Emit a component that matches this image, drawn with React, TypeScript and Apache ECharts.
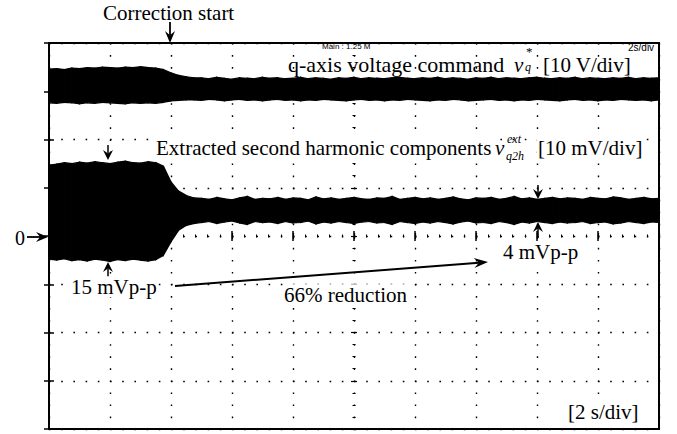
import React, { useEffect, useRef } from 'react';
import * as echarts from 'echarts';

// Sample spacing of the envelope read-outs (seconds)
const timeStep = 0.25;
// Time axis ticks: 0..20 s, 2 s/div
const timeMin = 0;
const timeMax = 20;
const timeDiv = 2;
// Vertical axis in divisions
const divMin = -4;
const divMax = 4;

// q-axis voltage command envelope (divisions)
const ch1Top = [
  3.46, 3.47, 3.45, 3.48, 3.47, 3.49, 3.48, 3.50, 3.49, 3.48, 3.50, 3.49, 3.51, 3.49, 3.48,
  3.45, 3.38, 3.33, 3.30, 3.28,
  3.28, 3.26, 3.29, 3.27, 3.25, 3.28, 3.27, 3.26, 3.29, 3.27,
  3.28, 3.26, 3.27, 3.29, 3.26, 3.28, 3.27, 3.25, 3.28, 3.27,
  3.29, 3.26, 3.28, 3.27, 3.26, 3.28, 3.29, 3.27, 3.26, 3.28,
  3.27, 3.29, 3.26, 3.28, 3.27, 3.25, 3.28, 3.27, 3.29, 3.26,
  3.28, 3.27, 3.26, 3.28, 3.29, 3.27, 3.26, 3.28, 3.27, 3.29,
  3.26, 3.28, 3.27, 3.26, 3.28, 3.27, 3.29, 3.26, 3.28, 3.27,
  3.28,
];
const ch1Bottom = [
  2.76, 2.75, 2.77, 2.76, 2.74, 2.76, 2.75, 2.77, 2.76, 2.75, 2.74, 2.76, 2.75, 2.76, 2.75,
  2.77, 2.80, 2.81, 2.82, 2.82,
  2.81, 2.83, 2.82, 2.80, 2.82, 2.83, 2.81, 2.82, 2.80, 2.82,
  2.83, 2.81, 2.82, 2.80, 2.82, 2.81, 2.83, 2.82, 2.81, 2.80,
  2.82, 2.83, 2.81, 2.82, 2.80, 2.82, 2.81, 2.83, 2.82, 2.81,
  2.80, 2.82, 2.81, 2.83, 2.82, 2.80, 2.81, 2.82, 2.83, 2.81,
  2.82, 2.80, 2.82, 2.81, 2.83, 2.82, 2.81, 2.80, 2.82, 2.83,
  2.81, 2.82, 2.80, 2.82, 2.81, 2.83, 2.82, 2.81, 2.82, 2.80,
  2.82,
];
// Extracted second harmonic envelope (divisions)
const ch2Top = [
  1.47, 1.49, 1.52, 1.50, 1.53, 1.51, 1.54, 1.52, 1.50, 1.53, 1.55, 1.52, 1.51, 1.54, 1.52,
  1.45, 1.12, 0.93, 0.84, 0.79,
  0.78, 0.76, 0.80, 0.77, 0.75, 0.79, 0.82, 0.76, 0.78, 0.77,
  0.80, 0.76, 0.79, 0.78, 0.75, 0.81, 0.77, 0.79, 0.76, 0.78,
  0.80, 0.77, 0.76, 0.79, 0.78, 0.82, 0.76, 0.78, 0.80, 0.77,
  0.79, 0.76, 0.78, 0.81, 0.77, 0.75, 0.79, 0.78, 0.80, 0.76,
  0.78, 0.82, 0.77, 0.79, 0.76, 0.78, 0.80, 0.77, 0.79, 0.78,
  0.76, 0.80, 0.78, 0.77, 0.81, 0.79, 0.76, 0.78, 0.80, 0.77,
  0.78,
];
const ch2Bottom = [
  -0.48, -0.50, -0.47, -0.51, -0.49, -0.52, -0.48, -0.50, -0.53, -0.49, -0.51, -0.48, -0.50, -0.52, -0.49,
  -0.40, -0.12, 0.12, 0.22, 0.26,
  0.28, 0.30, 0.26, 0.29, 0.31, 0.27, 0.24, 0.30, 0.28, 0.29,
  0.26, 0.30, 0.27, 0.28, 0.31, 0.25, 0.29, 0.27, 0.30, 0.28,
  0.26, 0.29, 0.30, 0.27, 0.28, 0.24, 0.30, 0.28, 0.26, 0.29,
  0.27, 0.30, 0.28, 0.25, 0.29, 0.31, 0.27, 0.28, 0.26, 0.30,
  0.28, 0.24, 0.29, 0.27, 0.30, 0.28, 0.26, 0.29, 0.27, 0.28,
  0.30, 0.26, 0.28, 0.29, 0.25, 0.27, 0.30, 0.28, 0.26, 0.29,
  0.28,
];

const SERIF = 'Liberation Serif';
const SANS = 'Liberation Sans';

function txt(x: number, baseline: number, text: string, size = 21, opts: any = {}) {
  return {
    type: 'text',
    z: 100,
    style: {
      x,
      y: baseline - 0.34 * size,
      text,
      fontFamily: opts.family || SERIF,
      fontSize: size,
      fontStyle: opts.italic ? 'italic' : 'normal',
      fill: '#000',
      textAlign: opts.align || 'left',
      textVerticalAlign: 'middle',
      backgroundColor: opts.bg,
      padding: opts.bg ? [0, 1] : 0,
    },
  };
}

function arrow(x1: number, y1: number, x2: number, y2: number, len = 11, half = 5, width = 1.6) {
  const dx = x2 - x1;
  const dy = y2 - y1;
  const d = Math.sqrt(dx * dx + dy * dy);
  const ux = dx / d;
  const uy = dy / d;
  const px = -uy;
  const py = ux;
  const bx = x2 - ux * len;
  const by = y2 - uy * len;
  const nx = x2 - ux * len * 0.65;
  const ny = y2 - uy * len * 0.65;
  return [
    {
      type: 'line',
      z: 100,
      shape: { x1, y1, x2: nx, y2: ny },
      style: { stroke: '#000', lineWidth: width },
    },
    {
      type: 'polygon',
      z: 100,
      shape: {
        points: [
          [x2, y2],
          [bx + px * half, by + py * half],
          [nx, ny],
          [bx - px * half, by - py * half],
        ],
      },
      style: { fill: '#000' },
    },
  ];
}

export default function App() {
  const ref = useRef<HTMLDivElement>(null);
  useEffect(() => {
    const chart = echarts.init(ref.current!, null, { renderer: 'svg' });
    const tickStyle = { show: true, inside: true, length: 5, lineStyle: { color: '#000', width: 1.5 } };
    const baseX = {
      type: 'value',
      min: timeMin,
      max: timeMax,
      interval: timeDiv,
      axisLabel: { show: false },
      axisLine: { show: false },
      axisTick: tickStyle,
    };
    const baseY = {
      type: 'value',
      min: divMin,
      max: divMax,
      interval: 1,
      axisLabel: { show: false },
      axisLine: { show: false },
      axisTick: tickStyle,
    };
    // centre-line graticule axes (tick marks across the centre lines)
    const centreX = (inside: boolean) => ({
      ...baseX,
      position: 'bottom',
      offset: -193,
      axisTick: { show: true, inside, length: 3, lineStyle: { color: '#000', width: 1.2 } },
      minorTick: { show: true, splitNumber: 5, length: 1.5, lineStyle: { color: '#000', width: 1 } },
      splitLine: { show: false },
    });
    const centreY = (inside: boolean) => ({
      ...baseY,
      position: 'left',
      offset: -305,
      axisTick: { show: true, inside, length: 3, lineStyle: { color: '#000', width: 1.2 } },
      minorTick: { show: true, splitNumber: 4, length: 1.5, lineStyle: { color: '#000', width: 1 } },
      splitLine: { show: false },
    });
    const band = (top: number[], bot: number[]) => {
      const data = top.map((v, i) => [i * timeStep, v, bot[i]]);
      return {
        type: 'custom',
        data,
        silent: true,
        z: 5,
        clip: true,
        renderItem: (params: any, api: any) => {
          const i = params.dataIndex;
          if (i >= data.length - 1) return null;
          const t0 = api.value(0);
          const n = data[i + 1];
          const pts = [
            api.coord([t0, api.value(1)]),
            api.coord([n[0], n[1]]),
            api.coord([n[0], n[2]]),
            api.coord([t0, api.value(2)]),
          ];
          return {
            type: 'polygon',
            shape: { points: pts },
            style: { fill: '#000', stroke: '#000', lineWidth: 1.2 },
          };
        },
      };
    };

    const graphics: any[] = [
      txt(103, 20, 'Correction start'),
      ...arrow(170, 22, 170, 43, 12, 5, 1.8),
      txt(288, 72, 'q-axis voltage command', 22),
      txt(514, 72, 'v', 21, { italic: true }),
      txt(526, 56, '*', 13),
      txt(525, 71, 'q', 12, { italic: true }),
      txt(543, 72, '[10 V/div]'),
      txt(155, 155, 'Extracted second harmonic components', 21, { bg: '#fff' }),
      txt(495, 155, 'v', 21, { italic: true }),
      txt(507, 143, 'ext', 12, { italic: true }),
      txt(506, 160, 'q2h', 12, { italic: true }),
      txt(537, 155, '[10 mV/div]', 21, { bg: '#fff' }),
      txt(15, 245, '0', 20),
      ...arrow(27, 237, 48, 237, 12, 5, 1.8),
      ...arrow(108, 145, 108, 160, 10, 5, 1.5),
      ...arrow(108, 277, 108, 262, 10, 5, 1.5),
      ...arrow(538, 185, 538, 199, 10, 5, 1.5),
      ...arrow(538, 238, 538, 222, 10, 5, 1.5),
      txt(70, 294, '15 mVp-p', 21, { bg: '#fff' }),
      ...arrow(175, 286, 488, 262, 14, 5, 2),
      txt(283, 302, '66% reduction', 21, { bg: '#fff' }),
      txt(502, 259, '4 mVp-p', 21, { bg: '#fff' }),
      txt(567, 419, '[2 s/div]', 21, { bg: '#fff' }),
      txt(322, 49, 'Main : 1.25 M', 8, { family: SANS }),
      txt(628, 51, '2s/div', 10, { family: SANS }),
    ];

    chart.setOption({
      animation: false,
      backgroundColor: '#fff',
      grid: {
        left: 49,
        top: 43,
        width: 610,
        height: 386,
        show: true,
        borderColor: '#000',
        borderWidth: 2,
        backgroundColor: 'transparent',
      },
      xAxis: [
        {
          ...baseX,
          position: 'bottom',
          splitLine: { show: true, lineStyle: { color: '#000', width: 1.4, type: [1.6, 10.45] } },
        },
        { ...baseX, position: 'top', splitLine: { show: false } },
        centreX(true),
        centreX(false),
      ],
      yAxis: [
        {
          ...baseY,
          position: 'left',
          splitLine: { show: true, lineStyle: { color: '#000', width: 1.4, type: [1.6, 10.6] } },
        },
        { ...baseY, position: 'right', splitLine: { show: false } },
        centreY(true),
        centreY(false),
      ],
      series: [band(ch1Top, ch1Bottom), band(ch2Top, ch2Bottom)],
      graphic: graphics,
    });
    return () => chart.dispose();
  }, []);
  return (
    <div
      ref={ref}
      style={{ position: 'absolute', left: 0, top: 0, width: 677, height: 434, background: '#fff' }}
    />
  );
}
